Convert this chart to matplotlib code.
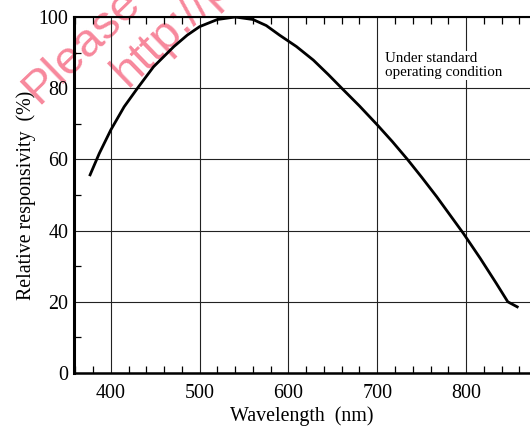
import matplotlib
matplotlib.use("Agg")
import matplotlib.pyplot as plt
from matplotlib.ticker import MultipleLocator

plt.rcParams['font.family'] = ['Liberation Serif', 'DejaVu Serif']

# 读图得到的曲线
wavelength = [376, 387, 400, 415, 430, 448, 471, 486, 500, 520, 540, 560, 575, 590,
              609, 628, 645, 660, 680, 700, 717, 734, 750, 767, 797, 816, 834, 847, 859]
responsivity = [55.3, 61.7, 68.3, 74.8, 80.0, 86.0, 91.7, 94.9, 97.3, 99.3, 100.0, 99.3, 97.6, 94.9,
                91.7, 87.9, 83.8, 80.0, 75.0, 69.7, 65.0, 60.0, 55.0, 49.5, 39.2, 32.2, 25.2, 20.0, 18.4]

x_ticks = [400, 500, 600, 700, 800]
y_ticks = [0, 20, 40, 60, 80, 100]

W, H = 530, 428
fig = plt.figure(figsize=(W / 100, H / 100), dpi=100)
ax = fig.add_axes([74 / W, 1 - 373 / H, 1 - 74 / W, (373 - 17) / H])
ax.patch.set_visible(False)

ax.plot(wavelength, responsivity, color="black", lw=2.0, zorder=3,
        solid_joinstyle="round", solid_capstyle="butt")

ax.set_xlim(358.5, 872)
ax.set_ylim(0, 100)
ax.set_xticks(x_ticks)
ax.set_yticks(y_ticks)
ax.xaxis.set_minor_locator(MultipleLocator(20))
ax.yaxis.set_minor_locator(MultipleLocator(10))
ax.grid(True, which="major", color="#222222", lw=0.8)

ax.tick_params(axis="x", which="major", length=0, pad=8, labelsize=14.4)
ax.tick_params(axis="y", which="major", length=0, pad=4, labelsize=14.4)
ax.tick_params(axis="x", which="minor", direction="in", length=5, width=0.9,
               top=True, bottom=True)
ax.tick_params(axis="y", which="minor", direction="in", length=5, width=0.9,
               left=True, right=False)

ax.spines["right"].set_visible(False)
ax.spines["left"].set_linewidth(2.2)
ax.spines["bottom"].set_linewidth(1.8)
ax.spines["top"].set_linewidth(1.5)

ax.set_xlabel("Wavelength  (nm)", fontsize=14.4, labelpad=2)
ax.set_ylabel("Relative responsivity  (%)", fontsize=14.4, labelpad=2)

fig.text(385 / W, 1 - 52 / H, "Under standard\noperating condition", fontsize=10.8,
         va="top", ha="left", linespacing=1.1,
         bbox=dict(facecolor="white", edgecolor="none", pad=1), zorder=4)

# 水印
wm_color = "#f7889c"
wm_font = ["Liberation Sans", "DejaVu Sans"]
fig.text(38 / W, 1 - 105 / H, "Please", fontsize=34, color=wm_color,
         family=wm_font, rotation=44, rotation_mode="anchor",
         ha="left", va="baseline", zorder=-1)
fig.text(128 / W, 1 - 88 / H, "http://p", fontsize=34, color=wm_color,
         family=wm_font, rotation=44, rotation_mode="anchor",
         ha="left", va="baseline", zorder=-1)

fig.savefig("out.png", dpi=100)
